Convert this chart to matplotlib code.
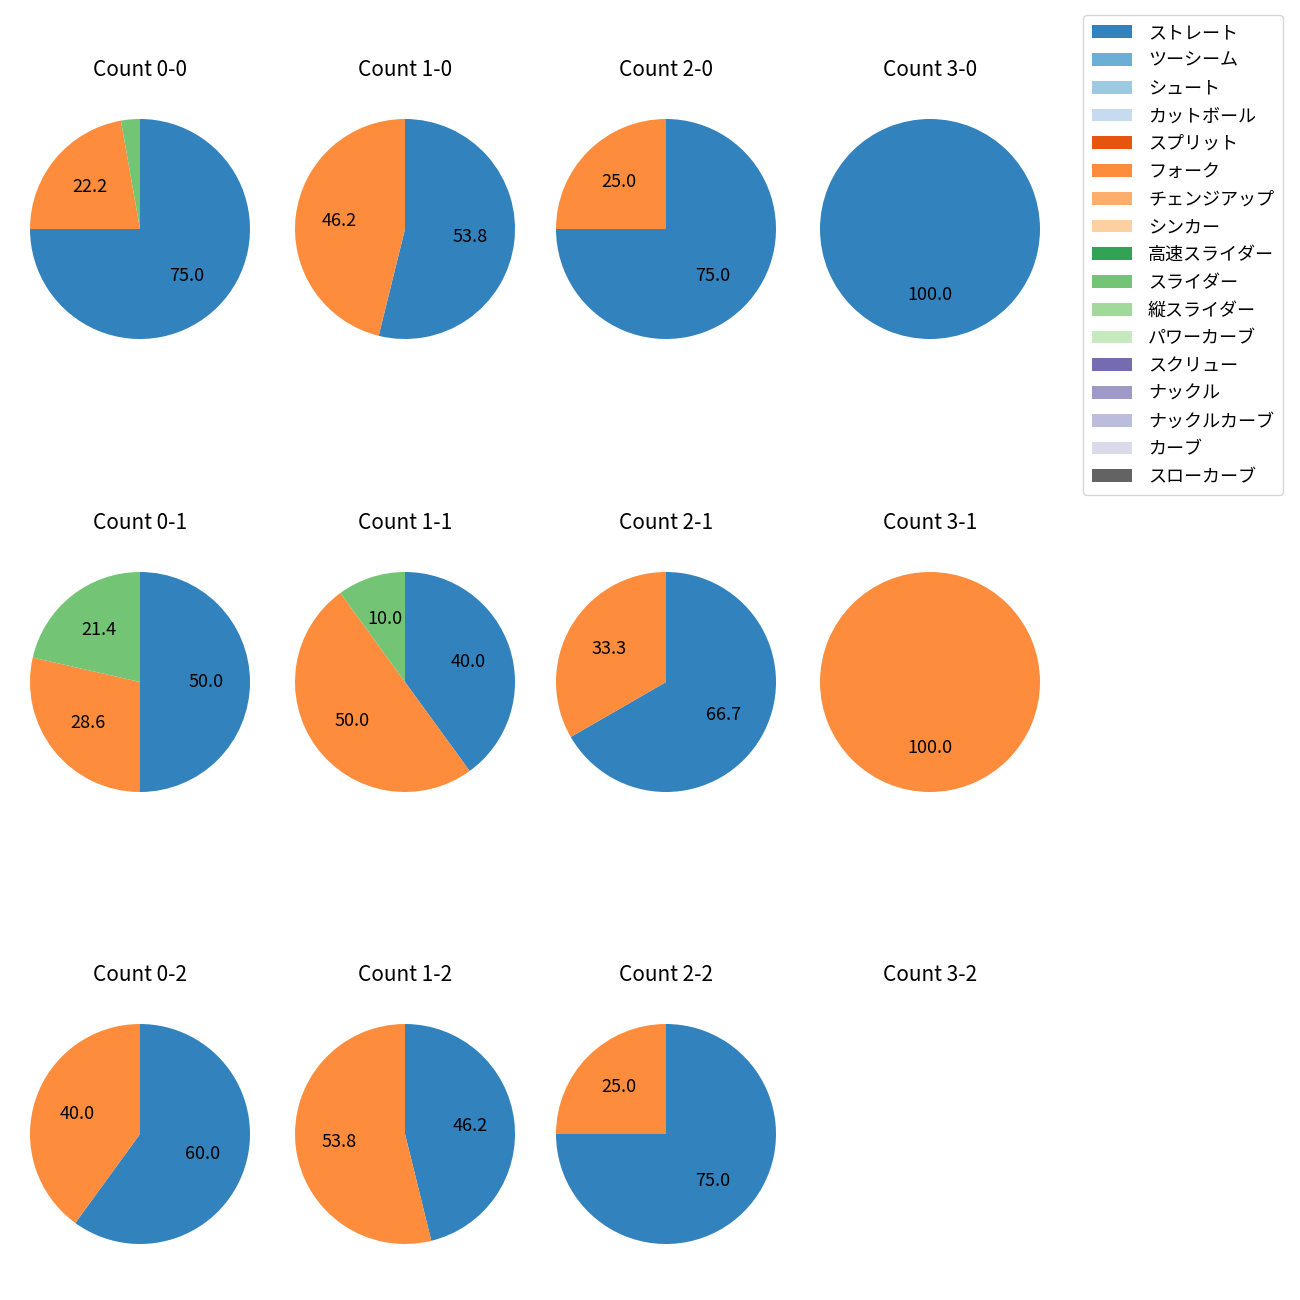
import matplotlib
matplotlib.use("Agg")
import matplotlib.pyplot as plt
from matplotlib.patches import Patch

plt.rcParams['font.family'] = ['Noto Sans CJK JP', 'DejaVu Sans']

pitch_types = ['ストレート', 'ツーシーム', 'シュート', 'カットボール', 'スプリット', 'フォーク',
               'チェンジアップ', 'シンカー', '高速スライダー', 'スライダー', '縦スライダー',
               'パワーカーブ', 'スクリュー', 'ナックル', 'ナックルカーブ', 'カーブ', 'スローカーブ']

balls = [0, 1, 2, 3]
strikes = [0, 1, 2]

# counts per pitch type for each count (balls-strikes); only non-zero types listed
count_0_0 = {'ストレート': 27, 'フォーク': 8, 'スライダー': 1}
count_1_0 = {'ストレート': 7, 'フォーク': 6}
count_2_0 = {'ストレート': 3, 'フォーク': 1}
count_3_0 = {'ストレート': 1}
count_0_1 = {'ストレート': 7, 'フォーク': 4, 'スライダー': 3}
count_1_1 = {'ストレート': 4, 'フォーク': 5, 'スライダー': 1}
count_2_1 = {'ストレート': 2, 'フォーク': 1}
count_3_1 = {'フォーク': 1}
count_0_2 = {'ストレート': 3, 'フォーク': 2}
count_1_2 = {'ストレート': 6, 'フォーク': 7}
count_2_2 = {'ストレート': 3, 'フォーク': 1}
count_3_2 = {}

data = {
    (0, 0): count_0_0, (1, 0): count_1_0, (2, 0): count_2_0, (3, 0): count_3_0,
    (0, 1): count_0_1, (1, 1): count_1_1, (2, 1): count_2_1, (3, 1): count_3_1,
    (0, 2): count_0_2, (1, 2): count_1_2, (2, 2): count_2_2, (3, 2): count_3_2,
}

cmap = plt.get_cmap('tab20c')
colors = {p: cmap(i) for i, p in enumerate(pitch_types)}

W = H = 1300
fig = plt.figure(figsize=(13, 13), dpi=100)

col_centers = [140, 405, 666, 930]
row_centers = [229, 682, 1134]
R_PX = 110
LIM = 1.15
side = 2 * LIM * R_PX

for s in strikes:
    for b in balls:
        cx, cy = col_centers[b], row_centers[s]
        ax = fig.add_axes([(cx - side / 2) / W, 1 - (cy + side / 2) / H, side / W, side / H])
        d = data[(b, s)]
        labels = [p for p in pitch_types if d.get(p, 0) > 0]
        vals = [d[p] for p in labels]
        if vals:
            ax.pie(vals, colors=[colors[p] for p in labels], startangle=90,
                   counterclock=False,
                   autopct=lambda pct: f'{pct:.1f}' if pct >= 5 else '',
                   textprops={'fontsize': 13})
            ax.set_xlim(-LIM, LIM)
            ax.set_ylim(-LIM, LIM)
        ax.axis('off')
        ax.set_title(f'Count {b}-{s}', fontsize=15, pad=19)

handles = [Patch(facecolor=colors[p], label=p) for p in pitch_types]
fig.legend(handles=handles, loc='upper right', bbox_to_anchor=(1283 / W, 1 - 15 / H),
           borderaxespad=0, fontsize=13, labelspacing=0.54, handlelength=2.2,
           handletextpad=0.9, borderpad=0.5)
fig.savefig('out.png', dpi=100)
